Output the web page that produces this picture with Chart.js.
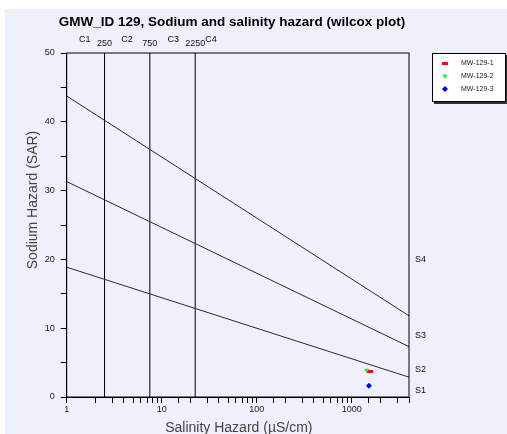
<!DOCTYPE html>
<html>
<head>
<meta charset="utf-8">
<script src="https://cdn.jsdelivr.net/npm/chart.js@4/dist/chart.umd.min.js"></script>
<style>
html,body{margin:0;padding:0;background:#ffffff;overflow:hidden;}
#c{display:block;}
</style>
</head>
<body>
<canvas id="c" width="507" height="434"></canvas>
<script>
// ---- data ----
const chartTitle = 'GMW_ID 129, Sodium and salinity hazard (wilcox plot)';
const xTitle = 'Salinity Hazard (µS/cm)';
const yTitle = 'Sodium Hazard (SAR)';
const seriesNames = ['MW-129-1', 'MW-129-2', 'MW-129-3'];
const seriesColors = ['#ff0000', '#22ee22', '#0000ff'];
const salinity = [1570, 1435, 1515];
const sar = [3.75, 3.9, 1.64];

const xRange = [1, 4000];
const yRange = [0, 50];
const classBoundaries = [2.5, 7.5, 22.5];
const classBoundaryLabels = ['250', '750', '2250'];
const classNames = ['C1', 'C2', 'C3', 'C4'];
const classNameX = [1.55, 4.3, 13.2, 32];

const sodiumLineX = [1, 4000];
const lineS1S2 = [18.87, 2.88];
const lineS2S3 = [31.31, 7.32];
const lineS3S4 = [43.75, 11.80];
const sodiumNames = ['S1', 'S2', 'S3', 'S4'];
const sodiumLabelY = [0.9, 4.0, 9.0, 20.0];

// ---- chart ----
const FONT = '"Liberation Sans", Arial, sans-serif';
const BG = '#eef1fb';

function flatRect(color) {
  const cv = document.createElement('canvas');
  cv.width = 6; cv.height = 3;
  const g = cv.getContext('2d');
  g.fillStyle = color; g.fillRect(0, 0, 6, 3);
  return cv;
}
const pointStyles = [flatRect(seriesColors[0]), 'triangle', 'rectRot'];
const pointRot = [0, 180, 0];
const pointRad = [3, 3, 3];

const datasets = [];
[lineS1S2, lineS2S3, lineS3S4].forEach(l => {
  datasets.push({
    data: sodiumLineX.map((x, i) => ({x: x, y: l[i]})),
    showLine: true, borderColor: '#2a2a2a', borderWidth: 1, pointRadius: 0, order: 5
  });
});
classBoundaries.forEach(b => {
  datasets.push({
    data: yRange.map(y => ({x: b, y: y})),
    showLine: true, borderColor: '#000000', borderWidth: 1, pointRadius: 0, order: 5
  });
});
const seriesIdx = [];
[1, 0, 2].forEach(i => {
  seriesIdx[i] = datasets.length;
  datasets.push({
    label: seriesNames[i],
    data: [{x: salinity[i], y: sar[i]}],
    pointStyle: pointStyles[i], rotation: pointRot[i], pointRadius: pointRad[i],
    backgroundColor: seriesColors[i], borderColor: seriesColors[i], borderWidth: 0,
    order: 1
  });
});

const decor = {
  id: 'decor',
  beforeDraw(chart) {
    const c = chart.ctx;
    c.save();
    c.fillStyle = BG;
    c.fillRect(5, 9, chart.width - 5, chart.height - 9);
    c.restore();
  },
  afterDatasetsDraw(chart) {
    const c = chart.ctx, a = chart.chartArea;
    const xs = chart.scales.x, ys = chart.scales.y;
    c.save();
    // plot frame
    c.strokeStyle = '#000'; c.lineWidth = 1;
    c.strokeRect(a.left, a.top, a.right - a.left, a.bottom - a.top);
    // title
    c.fillStyle = '#000';
    c.font = 'bold 13.5px ' + FONT;
    c.textAlign = 'center'; c.textBaseline = 'middle';
    c.fillText(chartTitle, 232, 22);
    // axis titles
    c.fillStyle = '#444';
    c.font = '14px ' + FONT;
    c.fillText(xTitle, (a.left + a.right) / 2 + 1, 428);
    c.save();
    c.translate(33, 200);
    c.rotate(-Math.PI / 2);
    c.fillText(yTitle, 0, 0);
    c.restore();
    // class labels
    c.fillStyle = '#111';
    c.font = '9px ' + FONT;
    classNames.forEach((n, i) => {
      c.textAlign = i === 3 ? 'left' : 'center';
      const px = i === 3 ? xs.getPixelForValue(classBoundaries[2]) + 10 : xs.getPixelForValue(classNameX[i]);
      c.fillText(n, px, 40);
    });
    c.textAlign = 'center';
    classBoundaryLabels.forEach((n, i) => {
      c.fillText(n, xs.getPixelForValue(classBoundaries[i]), 43.5);
    });
    // sodium labels
    c.textAlign = 'left';
    sodiumNames.forEach((n, i) => {
      c.fillText(n, a.right + 6, ys.getPixelForValue(sodiumLabelY[i]));
    });
    // legend
    const lx = 432, ly = 53, lw = 74, lh = 49;
    c.fillStyle = '#333';
    c.fillRect(lx + 2, ly + lh, lw, 2);
    c.fillRect(lx + lw, ly + 2, 2, lh);
    c.fillStyle = '#ffffff';
    c.fillRect(lx, ly, lw, lh);
    c.strokeStyle = '#000';
    c.strokeRect(lx + 0.5, ly + 0.5, lw - 1, lh - 1);
    c.font = '7px ' + FONT;
    c.textAlign = 'left'; c.textBaseline = 'middle';
    seriesNames.forEach((n, i) => {
      const y = 63 + i * 13;
      const ds = chart.data.datasets[seriesIdx[i]];
      c.fillStyle = ds.backgroundColor; c.strokeStyle = ds.borderColor;
      Chart.helpers.drawPoint(c, {pointStyle: ds.pointStyle, rotation: ds.rotation, radius: 3, borderWidth: 0}, 445, y);
      c.fillStyle = '#222';
      c.fillText(n, 461, y);
    });
    c.restore();
  }
};

new Chart(document.getElementById('c'), {
  type: 'scatter',
  data: {datasets: datasets},
  plugins: [decor],
  options: {
    responsive: false,
    animation: false,
    devicePixelRatio: 1,
    layout: {padding: {left: 0, top: 53, right: 98, bottom: 0}},
    plugins: {legend: {display: false}, tooltip: {enabled: false}, title: {display: false}},
    scales: {
      x: {
        type: 'logarithmic',
        min: xRange[0], max: xRange[1],
        afterFit(s) { s.height = 37; },
        border: {display: true, color: '#000'},
        grid: {drawOnChartArea: false, drawTicks: true, tickLength: 6, color: '#000'},
        ticks: {
          autoSkip: false, maxRotation: 0, padding: 1,
          color: '#222', font: {family: FONT, size: 9},
          callback(v) { const l = Math.log10(v); return Math.abs(l - Math.round(l)) < 1e-9 ? String(v) : ''; }
        }
      },
      y: {
        min: yRange[0], max: yRange[1],
        afterFit(s) { s.width = 66.7; },
        border: {display: true, color: '#000'},
        grid: {drawOnChartArea: false, drawTicks: true, tickLength: 6, color: '#000'},
        ticks: {
          stepSize: 5, padding: 6,
          color: '#222', font: {family: FONT, size: 9},
          callback(v) { return v % 10 === 0 ? String(v) : ''; }
        }
      }
    }
  }
});
</script>
</body>
</html>
